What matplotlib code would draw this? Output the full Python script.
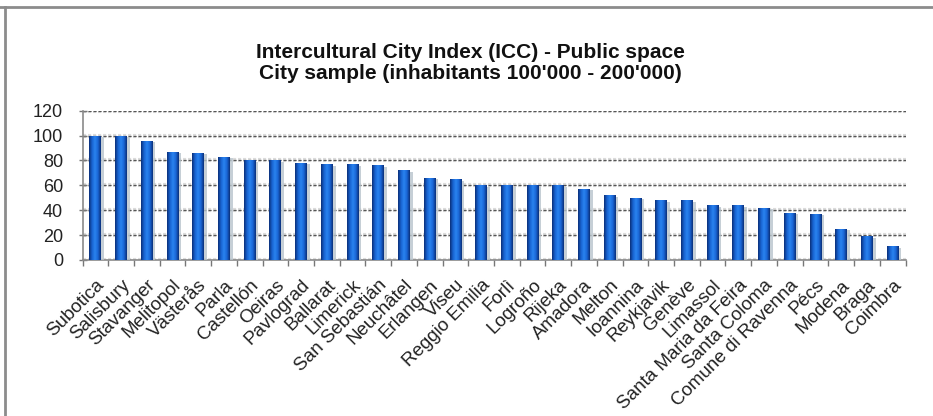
import numpy as np
import matplotlib
matplotlib.use("Agg")
import matplotlib.pyplot as plt
import matplotlib.patheffects as pe
import matplotlib.transforms as mtransforms
from matplotlib.colors import LinearSegmentedColormap
from matplotlib.lines import Line2D

plt.rcParams['font.family'] = ['Liberation Sans', 'DejaVu Sans']

title_lines = ["Intercultural City Index (ICC) - Public space",
               "City sample (inhabitants 100'000 - 200'000)"]

cities = ["Subotica", "Salisbury", "Stavanger", "Melitopol", "Västerås", "Parla",
          "Castellón", "Oeiras", "Pavlograd", "Ballarat", "Limerick", "San Sebastián",
          "Neuchâtel", "Erlangen", "Viseu", "Reggio Emilia", "Forlì", "Logroño",
          "Rijeka", "Amadora", "Melton", "Ioannina", "Reykjavik", "Genève",
          "Limassol", "Santa Maria da Feira", "Santa Coloma", "Comune di Ravenna",
          "Pécs", "Modena", "Braga", "Coimbra"]

scores = [100, 100, 96, 87, 86, 83, 80, 80, 78, 77, 77, 76,
          72, 66, 65, 60, 60, 60, 60, 57, 52, 50, 48, 48,
          44, 44, 42, 38, 37, 25, 19, 11]

y_ticks = [0, 20, 40, 60, 80, 100, 120]

W, H = 933, 416
fig = plt.figure(figsize=(W / 100, H / 100), dpi=100)
fig.patch.set_facecolor("white")

# outer frame (top and left edges)
fig.add_artist(Line2D([0, 1], [1 - 7 / H, 1 - 7 / H], transform=fig.transFigure,
                      color="#8c8c8c", lw=2))
fig.add_artist(Line2D([5 / W, 5 / W], [0, 1 - 7 / H], transform=fig.transFigure,
                      color="#8c8c8c", lw=2))

ax = fig.add_axes([82.5 / W, 156 / H, 823 / W, 149.3 / H])
ax.set_facecolor("white")

x = np.arange(len(cities))
bar_w = 0.46
bars = ax.bar(x, scores, width=bar_w, color="#1a5fc8", edgecolor="none", zorder=3,
              path_effects=[pe.SimplePatchShadow(offset=(2, -1), shadow_rgbFace="#b8c4cc",
                                                 alpha=0.8), pe.Normal()])

cmap = LinearSegmentedColormap.from_list(
    "barblue", ["#0a2f78", "#1862d0", "#2a84f0", "#1a66d6", "#0a2f78"])
grad = np.linspace(0, 1, 64).reshape(1, -1)
for b in bars:
    bx, by = b.get_x(), b.get_y()
    im = ax.imshow(grad, extent=(bx, bx + b.get_width(), by, by + b.get_height()),
                   cmap=cmap, aspect="auto", zorder=4, interpolation="bilinear")
    im.set_clip_path(b)

ax.set_xlim(-0.5, len(cities) - 0.5)
ax.set_ylim(0, 120)

ax.set_yticks(y_ticks)
ax.set_yticklabels([str(v) for v in y_ticks], fontsize=13, color="#222222")
ax.tick_params(axis="y", direction="inout", length=6, width=1, color="#777777", pad=11)

# x ticks at category boundaries, labels at centers
ax.set_xticks(np.arange(len(cities) + 1) - 0.5)
ax.set_xticklabels([])
ax.set_xticks(x, minor=True)
ax.set_xticklabels(cities, minor=True, rotation=45, ha="right", va="top",
                   rotation_mode="anchor", fontsize=13.5, color="#222222")
ax.tick_params(axis="x", which="major", direction="out", length=4, width=1, color="#777777")
ax.tick_params(axis="x", which="minor", length=0, pad=9)
shift = mtransforms.ScaledTranslation(0, -4 / 100, fig.dpi_scale_trans)
for lab in ax.get_xticklabels(minor=True):
    lab.set_transform(lab.get_transform() + shift)

for s in ["top", "right"]:
    ax.spines[s].set_visible(False)
ax.spines["left"].set_color("#8a8a8a")
ax.spines["bottom"].set_color("#8a8a8a")
ax.spines["left"].set_linewidth(1.2)
ax.spines["bottom"].set_linewidth(1.2)

ax.yaxis.grid(True, linestyle=(0, (2.5, 1.5)), color="#555555", lw=0.9, zorder=1)
ax.set_axisbelow(True)
for gl in ax.get_ygridlines():
    gl.set_path_effects([pe.Stroke(linewidth=3, foreground="#dcdcdc"), pe.Normal()])

fig.text(470 / W, 1 - 58.5 / H, title_lines[0], ha="center", va="baseline",
         fontsize=15, fontweight="bold", color="#111111")
fig.text(470 / W, 1 - 79 / H, title_lines[1], ha="center", va="baseline",
         fontsize=15, fontweight="bold", color="#111111")

fig.savefig("out.png", dpi=100, facecolor="white")
